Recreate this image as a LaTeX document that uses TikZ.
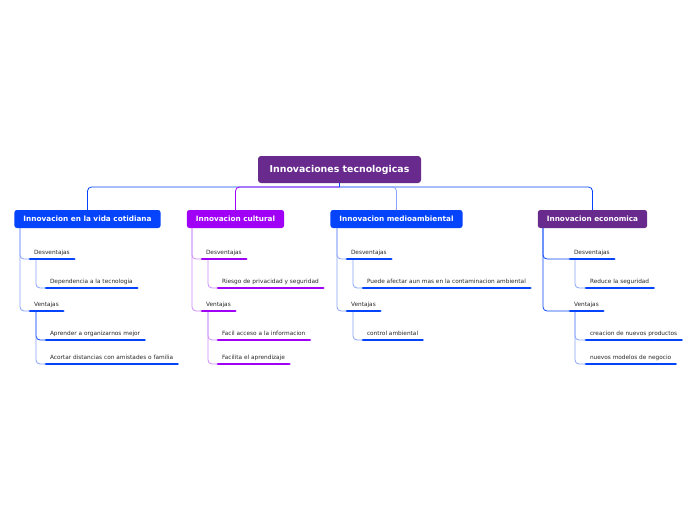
\documentclass[tikz,border=0pt]{standalone}
\usepackage{fontspec}
\setmainfont{DejaVu Sans}
\begin{document}
\begin{tikzpicture}[x=1pt,y=-1pt,
  every node/.style={inner sep=0pt, outer sep=0pt},
  rootbox/.style={fill=cRoot, rounded corners=3pt, text=white, font=\fontsize{9.4}{10}\selectfont\bfseries, minimum width=163pt, minimum height=27pt},
  mainbox/.style={fill=#1, rounded corners=2.5pt, text=white, font=\fontsize{7.3}{8}\selectfont\bfseries, inner xsep=9pt, minimum height=18pt},
  item/.style={anchor=south west, inner xsep=5pt, inner ysep=5pt, text depth=0pt, text=cText, font=\fontsize{5.8}{6}\selectfont,
    append after command={\pgfextra{\draw[line width=2.8pt, line cap=round, #1] ([xshift=1pt]\tikzlastnode.south west) -- ([xshift=-0.5pt]\tikzlastnode.south east);}}},
  conn/.style={line width=0.8pt, rounded corners=4pt, #1},
  stub/.style={line width=1pt, #1}
]
\definecolor{cRoot}{RGB}{104,42,140}
\definecolor{cBlue}{RGB}{5,68,250}
\definecolor{cViolet}{RGB}{160,0,245}
\definecolor{cLBlue}{RGB}{135,162,250}
\definecolor{cLViolet}{RGB}{205,140,250}
\definecolor{cText}{RGB}{40,40,40}
\useasboundingbox (0,0) rectangle (696,520);

% root
\node[rootbox] (root) at (339.5,169.5) {Innovaciones tecnologicas};
\coordinate (hub) at (339.5,187);

% main nodes
\node[mainbox=cBlue] (m1) at (87.5,219) {Innovacion en la vida cotidiana};
\node[mainbox=cViolet] (m2) at (235.5,219) {Innovacion cultural};
\node[mainbox=cBlue] (m3) at (396.5,219) {Innovacion medioambiental};
\node[mainbox=cRoot] (m4) at (592.5,219) {Innovacion economica};

% top connectors
\draw[conn=cBlue] (hub) -| (m1.north);
\draw[conn=cBlue] (hub) -| (m4.north);
\draw[conn=cLBlue] (hub) -| (m3.north);
\draw[conn=cViolet] (hub) -| (m2.north);
\draw[stub=cBlue] (root.south) -- (hub);

\coordinate (c1) at (20,228);
\coordinate (c2) at (192,228);
\coordinate (c3) at (337,228);
\coordinate (c4) at (543,228);

% Branch 1: vida cotidiana
\draw[conn=cLBlue] (c1) |- (29,259);
\draw[conn=cLBlue] (c1) |- (29,311);
\draw[conn=cLBlue] (36,259) |- (45,288);
\draw[conn=cBlue] (36,311) |- (45,340);
\draw[conn=cLBlue] (36,311) |- (45,364);
% Branch 2: cultural
\draw[conn=cLViolet] (c2) |- (201,259);
\draw[conn=cLViolet] (c2) |- (201,311);
\draw[conn=cLViolet] (208,259) |- (217,288);
\draw[conn=cLViolet] (208,311) |- (217,340);
\draw[conn=cLViolet] (208,311) |- (217,364);
% Branch 3: medioambiental
\draw[conn=cLBlue] (c3) |- (346,259);
\draw[conn=cLBlue] (c3) |- (346,311);
\draw[conn=cLBlue] (353,259) |- (362,288);
\draw[conn=cLBlue] (353,311) |- (362,340);
% Branch 4: economica
\draw[conn=cBlue] (c4) |- (569,259);
\draw[conn=cBlue] (c4) |- (569,311);
\draw[conn=cLBlue] (575,259) |- (585,288);
\draw[conn=cLBlue] (575,311) |- (585,340);
\draw[conn=cLBlue] (575,311) |- (585,364);

% items branch 1
\node[item=cBlue] (d1) at (29,259) {Desventajas};
\node[item=cBlue] (d1a) at (45,288) {Dependencia a la tecnologia};
\node[item=cBlue] (v1) at (29,311) {Ventajas};
\node[item=cBlue] (v1a) at (45,340) {Aprender a organizarnos mejor};
\node[item=cBlue] (v1b) at (45,364) {Acortar distancias con amistades o familia};
% items branch 2
\node[item=cViolet] (d2) at (201,259) {Desventajas};
\node[item=cViolet] (d2a) at (217,288) {Riesgo de privacidad y seguridad};
\node[item=cViolet] (v2) at (201,311) {Ventajas};
\node[item=cViolet] (v2a) at (217,340) {Facil acceso a la informacion};
\node[item=cViolet] (v2b) at (217,364) {Facilita el aprendizaje};
% items branch 3
\node[item=cBlue] (d3) at (346,259) {Desventajas};
\node[item=cBlue] (d3a) at (362,288) {Puede afectar aun mas en la contaminacion ambiental};
\node[item=cBlue] (v3) at (346,311) {Ventajas};
\node[item=cBlue] (v3a) at (362,340) {control ambiental};
% items branch 4
\node[item=cBlue] (d4) at (569,259) {Desventajas};
\node[item=cBlue] (d4a) at (585,288) {Reduce la seguridad};
\node[item=cBlue] (v4) at (569,311) {Ventajas};
\node[item=cBlue] (v4a) at (585,340) {creacion de nuevos productos};
\node[item=cBlue] (v4b) at (585,364) {nuevos modelos de negocio};
\end{tikzpicture}
\end{document}
